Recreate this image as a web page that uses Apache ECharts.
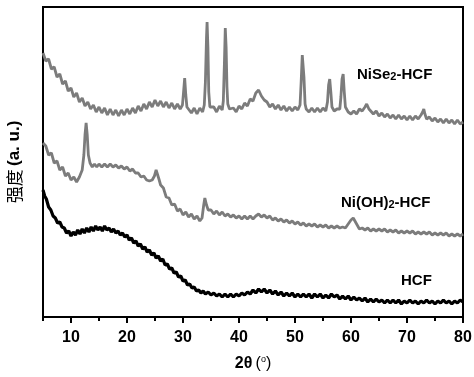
<!DOCTYPE html>
<html>
<head>
<meta charset="utf-8">
<script src="https://cdn.jsdelivr.net/npm/echarts@6/dist/echarts.min.js"></script>
<style>html,body{margin:0;padding:0;background:#fff;}#c{width:474px;height:377px;}</style>
</head>
<body>
<div id="c"></div>
<script>
// 2θ (degrees) and intensity (a. u.)
const niSe2HCF = [
[5.0,264],[5.5,256],[6.0,258],[6.5,248],[7.0,250],[7.5,240],[8.0,243],[8.5,233],[9.0,236],[9.5,226],
[10.0,229],[10.5,220],[11.0,224],[11.5,215],[12.0,219],[12.5,211],[13.0,215],[13.5,208],[14.0,212],[14.5,205],
[15.0,210],[15.5,204],[16.0,209],[16.5,202],[17.0,208],[17.5,202],[18.0,207],[18.5,201],[19.0,207],[19.5,202],
[20.0,208],[20.5,203],[21.0,209],[21.5,204],[22.0,211],[22.5,206],[23.0,213],[23.5,208],[24.0,215],[24.5,210],
[25.0,217],[25.5,211],[26.0,216],[26.5,210],[27.0,215],[27.5,209],[28.0,214],[28.5,208],[29.0,213],[29.5,208],
[29.9,212],[30.1,225],[30.3,239],[30.5,222],[30.7,210],[31.0,209],[31.5,204],[32.0,209],[32.5,203],[33.0,209],
[33.5,205],[33.8,212],[34.0,235],[34.2,280],[34.3,295],[34.45,270],[34.6,225],[34.8,210],[35.0,208],[35.5,210],
[36.0,205],[36.5,211],[37.0,207],[37.2,216],[37.4,255],[37.55,289],[37.7,270],[37.85,230],[38.0,213],[38.3,208],
[38.6,206],[39.0,209],[39.5,205],[40.0,211],[40.5,208],[41.0,214],[41.5,211],[42.0,218],[42.5,216],[43.0,224],
[43.5,227],[44.0,221],[44.5,217],[45.0,215],[45.5,210],[46.0,213],[46.5,208],[47.0,212],[47.5,207],[48.0,211],
[48.5,206],[49.0,210],[49.5,206],[50.0,210],[50.5,207],[50.9,212],[51.1,235],[51.3,262],[51.45,264],[51.6,240],
[51.8,213],[52.0,208],[52.5,205],[53.0,209],[53.5,205],[54.0,209],[54.5,205],[55.0,209],[55.5,206],[55.8,215],
[56.0,232],[56.2,238],[56.4,225],[56.6,210],[57.0,206],[57.5,208],[58.0,208],[58.2,220],[58.4,238],[58.6,243],
[58.8,225],[59.0,210],[59.5,205],[60.0,203],[60.5,206],[61.0,203],[61.5,208],[62.0,206],[62.5,210],[62.8,213],
[63.2,208],[63.5,207],[64.0,203],[64.5,206],[65.0,201],[65.5,204],[66.0,200],[66.5,203],[67.0,199],[67.5,202],
[68.0,198],[68.5,202],[69.0,198],[69.5,201],[70.0,197],[70.5,201],[71.0,197],[71.5,201],[72.0,198],[72.5,202],
[72.8,205],[73.0,208],[73.2,203],[73.5,198],[74.0,200],[74.5,196],[75.0,199],[75.5,195],[76.0,198],[76.5,194],
[77.0,198],[77.5,194],[78.0,197],[78.5,193],[79.0,197],[79.5,193],[80.0,195]
];
const niOH2HCF = [
[5.0,174],[5.5,171],[6.0,162],[6.5,164],[7.0,154],[7.5,156],[8.0,147],[8.5,150],[9.0,141],[9.5,144],
[10.0,137],[10.5,140],[11.0,135],[11.5,140],[12.0,147],[12.3,162],[12.5,182],[12.7,194],[12.9,182],[13.1,162],
[13.4,154],[13.8,150],[14.2,153],[14.6,150],[15.0,153],[15.5,150],[16.0,153],[16.5,150],[17.0,153],[17.5,150],
[18.0,152],[18.5,149],[19.0,151],[19.5,148],[20.0,150],[20.5,146],[21.0,148],[21.5,144],[22.0,144],[22.5,140],
[23.0,141],[23.5,137],[24.0,136],[24.5,137],[24.9,141],[25.2,147],[25.4,145],[25.7,138],[26.0,132],[26.5,129],
[27.0,120],[27.5,119],[28.0,112],[28.5,113],[29.0,106],[29.5,108],[30.0,102],[30.5,105],[31.0,100],[31.5,103],
[32.0,98],[32.5,101],[33.0,96],[33.4,99],[33.7,112],[33.9,119],[34.2,112],[34.5,107],[35.0,107],[35.5,103],
[36.0,106],[36.5,102],[37.0,105],[37.5,101],[38.0,103],[38.5,100],[39.0,102],[39.5,99],[40.0,101],[40.5,98],
[41.0,101],[41.5,98],[42.0,101],[42.5,98],[43.0,101],[43.5,103],[44.0,100],[44.5,102],[45.0,99],[45.5,101],
[46.0,97],[46.5,99],[47.0,96],[47.5,98],[48.0,95],[48.5,97],[49.0,94],[49.5,96],[50.0,93],[50.5,95],
[51.0,92],[51.5,94],[52.0,91],[52.5,93],[53.0,91],[53.5,93],[54.0,90],[54.5,92],[55.0,90],[55.5,92],
[56.0,89],[56.5,91],[57.0,89],[57.5,91],[58.0,89],[58.5,90],[59.0,89],[59.5,93],[60.0,97],[60.4,99],
[60.8,95],[61.2,91],[61.5,88],[62.0,89],[62.5,87],[63.0,89],[63.5,86],[64.0,88],[64.5,86],[65.0,88],
[65.5,86],[66.0,88],[66.5,85],[67.0,87],[67.5,85],[68.0,87],[68.5,84],[69.0,86],[69.5,84],[70.0,86],
[70.5,84],[71.0,86],[71.5,83],[72.0,85],[72.5,83],[73.0,85],[73.5,83],[74.0,85],[74.5,82],[75.0,84],
[75.5,82],[76.0,84],[76.5,82],[77.0,84],[77.5,81],[78.0,83],[78.5,81],[79.0,83],[79.5,81],[80.0,83]
];
const hcf = [
[5.0,127],[5.3,121],[5.6,118],[6.0,110],[6.4,107],[6.8,101],[7.2,99],[7.6,94],[8.0,95],[8.4,90],
[8.8,89],[9.2,84],[9.6,86],[10.0,81],[10.4,85],[10.8,82],[11.2,87],[11.6,83],[12.0,88],[12.4,84],
[12.8,89],[13.2,85],[13.6,90],[14.0,86],[14.4,91],[14.8,87],[15.2,90],[15.6,86],[16.0,91],[16.4,87],
[16.8,89],[17.2,85],[17.6,88],[18.0,84],[18.4,86],[18.8,82],[19.2,84],[19.6,80],[20.0,82],[20.4,77],
[20.8,79],[21.2,74],[21.6,76],[22.0,71],[22.4,73],[22.8,68],[23.2,70],[23.6,65],[24.0,67],[24.4,62],
[24.8,64],[25.2,59],[25.6,61],[26.0,56],[26.4,58],[26.8,52],[27.2,53],[27.6,48],[28.0,49],[28.4,44],
[28.8,45],[29.2,40],[29.6,41],[30.0,36],[30.4,37],[30.8,32],[31.2,33],[31.6,29],[32.0,30],[32.4,26],
[32.8,27],[33.2,24],[33.6,26],[34.0,23],[34.5,25],[35.0,22],[35.5,24],[36.0,21],[36.5,23],[37.0,20],
[37.5,23],[38.0,20],[38.5,23],[39.0,20],[39.5,23],[40.0,21],[40.5,24],[41.0,22],[41.5,25],[42.0,23],
[42.5,27],[43.0,24],[43.5,28],[44.0,25],[44.5,28],[45.0,24],[45.5,27],[46.0,23],[46.5,26],[47.0,22],
[47.5,25],[48.0,21],[48.5,24],[49.0,21],[49.5,24],[50.0,20],[50.5,23],[51.0,20],[51.5,23],[52.0,20],
[52.5,23],[53.0,19],[53.5,23],[54.0,20],[54.5,23],[55.0,19],[55.5,22],[56.0,19],[56.5,23],[57.0,20],
[57.5,22],[58.0,18],[58.5,21],[59.0,18],[59.5,21],[60.0,17],[60.5,20],[61.0,17],[61.5,19],[62.0,16],
[62.5,19],[63.0,15],[63.5,18],[64.0,15],[64.5,18],[65.0,15],[65.5,17],[66.0,14],[66.5,17],[67.0,14],
[67.5,17],[68.0,14],[68.5,17],[69.0,13],[69.5,16],[70.0,14],[70.5,17],[71.0,14],[71.5,16],[72.0,13],
[72.5,16],[73.0,14],[73.5,17],[74.0,14],[74.5,16],[75.0,13],[75.5,16],[76.0,14],[76.5,17],[77.0,14],
[77.5,16],[78.0,13],[78.5,16],[79.0,14],[79.5,17],[80.0,15]
];
const majorTicks = [10, 20, 30, 40, 50, 60, 70, 80];
const minorTicks = [5, 15, 25, 35, 45, 55, 65, 75];
const seriesNames = ['NiSe2-HCF', 'Ni(OH)2-HCF', 'HCF'];

const chart = echarts.init(document.getElementById('c'), null, {renderer: 'canvas'});
const GRAY = '#7c7c7c';
const grid = {left: 43, top: 7, width: 420, height: 310};
const lbl = (parts, x, y) => ({
  type: 'text', x: x, y: y,
  style: {
    text: parts, fill: '#000',
    font: 'bold 15px "Liberation Sans", Arial, sans-serif',
    rich: {
      b: {fontSize: 15, fontWeight: 'bold', fontFamily: 'Liberation Sans, Arial', fill: '#000'},
      s: {fontSize: 11, fontWeight: 'bold', fontFamily: 'Liberation Sans, Arial', fill: '#000', padding: [4, 0, 0, 0]}
    },
    verticalAlign: 'middle'
  }
});
chart.setOption({
  animation: false,
  backgroundColor: '#fff',
  grid: Object.assign({show: true, borderColor: '#000', borderWidth: 2, backgroundColor: 'transparent',
    outerBoundsMode: 'none', containLabel: false}, grid),
  xAxis: [{
    type: 'value', min: 5, max: 80,
    axisLine: {show: true, lineStyle: {color: '#000', width: 2}},
    axisTick: {show: true, inside: false, length: 6, lineStyle: {color: '#000', width: 2}, customValues: majorTicks},
    axisLabel: {customValues: majorTicks, color: '#000', fontSize: 16, fontWeight: 'bold', fontFamily: 'Liberation Sans, Arial', margin: 13},
    splitLine: {show: false},
    name: '{b|2θ} {n|(}{d|o}{n|)}', nameLocation: 'middle', nameGap: 38,
    nameTextStyle: {rich: {
      b: {fontSize: 16, fontWeight: 'bold', fontFamily: 'Liberation Sans, Arial', color: '#000'},
      n: {fontSize: 16, fontFamily: 'Liberation Sans, Arial', color: '#000'},
      d: {fontSize: 9, fontFamily: 'Liberation Sans, Arial', color: '#000', padding: [0, 0, 8, 0]}
    }}
  }, {
    type: 'value', min: 5, max: 80, position: 'bottom', gridIndex: 0,
    axisLine: {show: false},
    axisTick: {show: true, length: 4, lineStyle: {color: '#000', width: 2}, customValues: minorTicks},
    axisLabel: {show: false},
    splitLine: {show: false}
  }],
  yAxis: {
    type: 'value', min: 0, max: 310,
    axisLine: {show: true, lineStyle: {color: '#000', width: 2}},
    axisTick: {show: false}, axisLabel: {show: false}, splitLine: {show: false},
    name: '{c|强度} {b|(a. u.)}', nameLocation: 'middle', nameGap: 20, nameRotate: 90,
    nameTextStyle: {rich: {
      c: {fontSize: 17, fontFamily: 'Noto Sans CJK SC', color: '#000'},
      b: {fontSize: 17, fontWeight: 'bold', fontFamily: 'Liberation Sans, Arial', color: '#000'}
    }}
  },
  series: [
    {name: seriesNames[0], type: 'line', data: niSe2HCF, showSymbol: false, lineStyle: {color: GRAY, width: 2.8}, z: 3},
    {name: seriesNames[1], type: 'line', data: niOH2HCF, showSymbol: false, lineStyle: {color: GRAY, width: 2.8}, z: 3},
    {name: seriesNames[2], type: 'line', data: hcf, showSymbol: false, lineStyle: {color: '#000', width: 3.2}, z: 4}
  ],
  graphic: [
    lbl('{b|NiSe}{s|2}{b|-HCF}', 357, 75),
    lbl('{b|Ni(OH)}{s|2}{b|-HCF}', 341, 203),
    lbl('{b|HCF}', 401, 281)
  ]
});
</script>
</body>
</html>
